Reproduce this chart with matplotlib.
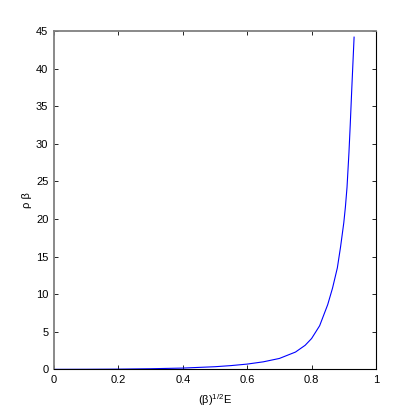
import matplotlib
matplotlib.use("Agg")
import matplotlib.pyplot as plt
import numpy as np

plt.rcParams['font.family'] = ['Liberation Sans', 'DejaVu Sans']
plt.rcParams['mathtext.fontset'] = 'custom'
plt.rcParams['mathtext.rm'] = 'Liberation Sans'

# values
energy = [0.0, 0.1, 0.2, 0.3, 0.4, 0.5, 0.55, 0.6, 0.65, 0.7, 0.75, 0.78,
          0.8, 0.825, 0.85, 0.865, 0.88, 0.89, 0.9, 0.905, 0.91, 0.916,
          0.92, 0.925, 0.932]
rho = [0.0, 0.01, 0.03, 0.08, 0.17, 0.35, 0.5, 0.7, 1.0, 1.45, 2.3, 3.2,
       4.1, 5.8, 8.6, 10.8, 13.5, 16.3, 19.5, 21.6, 24.2, 28.8,
       32.5, 37.5, 44.2]

fig = plt.figure(figsize=(4.15, 4.15), dpi=100)
ax = fig.add_axes([0.13, 0.11, 0.776, 0.815])
ax.plot(energy, rho, color='#0000ff', lw=0.8)

ax.set_xlim(0, 1)
ax.set_ylim(0, 45)
ax.set_xticks(np.arange(0, 1.01, 0.2))
ax.set_xticklabels(['0', '0.2', '0.4', '0.6', '0.8', '1'])
ax.set_yticks(range(0, 46, 5))
ax.tick_params(direction='in', length=3, width=0.6, labelsize=8,
               top=True, right=True, pad=4)
for side in ['left', 'top']:
    ax.spines[side].set_color('#808080')
    ax.spines[side].set_linewidth(1.3)
for side in ['right', 'bottom']:
    ax.spines[side].set_linewidth(0.8)

ax.set_xlabel('(β)$\\mathregular{^{1/2}}$E', fontsize=8, labelpad=5)
ax.set_ylabel('ρ β', fontsize=8, labelpad=3)

fig.savefig('out.png', dpi=100)
